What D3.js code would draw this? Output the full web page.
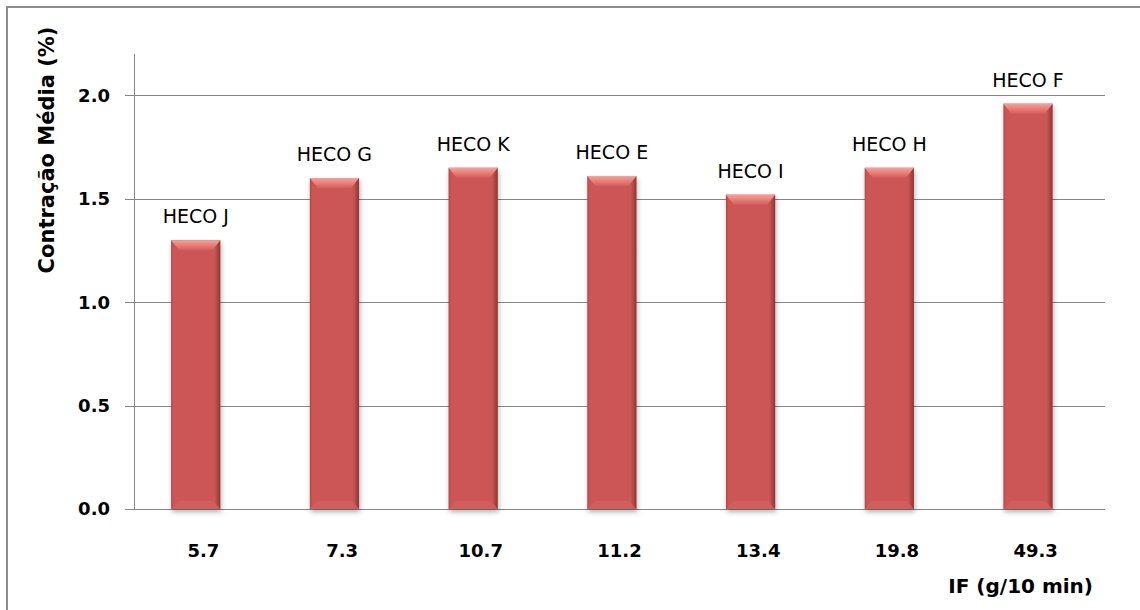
<!DOCTYPE html>
<html>
<head>
<meta charset="utf-8">
<script src="https://cdn.jsdelivr.net/npm/d3@7"></script>
<style>
  body { margin: 0; background: #fff; }
  svg { display: block; font-family: "DejaVu Sans", sans-serif; }
</style>
</head>
<body>
<div id="chart-container"></div>
<script>
// chart data
const categories = ["5.7", "7.3", "10.7", "11.2", "13.4", "19.8", "49.3"];
const contraction = [1.30, 1.60, 1.65, 1.61, 1.52, 1.65, 1.96];
const sampleNames = ["HECO J", "HECO G", "HECO K", "HECO E", "HECO I", "HECO H", "HECO F"];
const yTicks = [0, 0.5, 1.0, 1.5, 2.0];

const width = 1140;
const height = 610;

// plot area, taken from the reference layout
const margin = { top: 54, right: 35, bottom: 101, left: 134 };

const data = categories.map((c, i) => ({ cat: c, value: contraction[i], name: sampleNames[i] }));

const svg = d3.select("#chart-container")
    .append("svg")
    .attr("width", width)
    .attr("height", height);

const defs = svg.append("defs");

// side shading of the bars
const sideGrad = defs.append("linearGradient")
    .attr("id", "bar-side")
    .attr("x1", "0%").attr("x2", "100%").attr("y1", "0%").attr("y2", "0%");
sideGrad.selectAll("stop")
    .data([
        { o: "0%", c: "#b44745" },
        { o: "5%", c: "#cb5654" },
        { o: "88%", c: "#cc5755" },
        { o: "95%", c: "#a94341" },
        { o: "100%", c: "#8a3533" }
    ])
    .join("stop")
    .attr("offset", d => d.o)
    .attr("stop-color", d => d.c);

// top bevel highlight
const topGrad = defs.append("linearGradient")
    .attr("id", "bar-top")
    .attr("x1", "0%").attr("x2", "0%").attr("y1", "0%").attr("y2", "100%");
topGrad.selectAll("stop")
    .data([
        { o: "0%", c: "#f7a19c" },
        { o: "40%", c: "#ee8580" },
        { o: "100%", c: "#d45d5a" }
    ])
    .join("stop")
    .attr("offset", d => d.o)
    .attr("stop-color", d => d.c);

// soft shadow under the bars
const shadow = defs.append("filter")
    .attr("id", "bar-shadow")
    .attr("x", "-20%").attr("y", "-5%").attr("width", "140%").attr("height", "115%");
shadow.append("feDropShadow")
    .attr("dx", 1).attr("dy", 3)
    .attr("stdDeviation", 2.5)
    .attr("flood-color", "#000")
    .attr("flood-opacity", 0.3);

// outer frame (only left and top are visible in the window)
svg.append("rect")
    .attr("x", 7).attr("y", 7)
    .attr("width", width + 20).attr("height", height + 20)
    .attr("fill", "none")
    .attr("stroke", "#8c8c8c")
    .attr("stroke-width", 2);

// scales
const x = d3.scaleBand()
    .domain(categories)
    .range([margin.left, width - margin.right])
    .padding(0);

const y = d3.scaleLinear()
    .domain([0, 2.2])
    .range([height - margin.bottom, margin.top]);

const barWidth = x.bandwidth() * 0.355;
const barShift = -x.bandwidth() * 0.055; // bars sit slightly left of the category centre
const barX = d => x(d.cat) + x.bandwidth() / 2 + barShift - barWidth / 2;

// gridlines
svg.append("g")
    .selectAll("line")
    .data(yTicks)
    .join("line")
    .attr("x1", margin.left - 9)
    .attr("x2", width - margin.right)
    .attr("y1", d => Math.round(y(d)) + 0.5)
    .attr("y2", d => Math.round(y(d)) + 0.5)
    .attr("stroke", "#868686")
    .attr("stroke-width", 1);

// y axis line
svg.append("line")
    .attr("x1", margin.left + 0.5).attr("x2", margin.left + 0.5)
    .attr("y1", margin.top).attr("y2", y(0))
    .attr("stroke", "#868686");

// y tick labels
svg.append("g")
    .attr("font-size", 18)
    .attr("font-weight", "bold")
    .attr("text-anchor", "end")
    .selectAll("text")
    .data(yTicks)
    .join("text")
    .attr("x", margin.left - 24)
    .attr("y", d => y(d))
    .attr("dy", "0.36em")
    .attr("fill", "#000")
    .text(d => d3.format(".1f")(d));

// bars
const bars = svg.append("g")
    .selectAll("g")
    .data(data)
    .join("g");

bars.append("rect")
    .attr("x", barX)
    .attr("y", d => y(d.value))
    .attr("width", barWidth)
    .attr("height", d => y(0) - y(d.value))
    .attr("fill", "url(#bar-side)")
    .attr("filter", "url(#bar-shadow)");

// top bevel
bars.append("path")
    .attr("d", d => {
        const x0 = barX(d), x1 = x0 + barWidth, t = y(d.value), b = 10;
        return `M${x0},${t}L${x1},${t}L${x1 - 8},${t + b}L${x0 + 8},${t + b}Z`;
    })
    .attr("fill", "url(#bar-top)");

// bottom bevel, lighter and faint
bars.append("path")
    .attr("d", d => {
        const x0 = barX(d), x1 = x0 + barWidth, b = y(0);
        return `M${x0},${b}L${x1},${b}L${x1 - 7},${b - 8}L${x0 + 7},${b - 8}Z`;
    })
    .attr("fill", "#d2605d")
    .attr("opacity", 0.8);

// sample labels over the bars
svg.append("g")
    .attr("font-size", 19)
    .attr("text-anchor", "middle")
    .selectAll("text")
    .data(data)
    .join("text")
    .attr("x", d => barX(d) + barWidth / 2)
    .attr("y", d => y(d.value) - 17)
    .attr("fill", "#000")
    .text(d => d.name);

// x tick labels
svg.append("g")
    .attr("font-size", 18)
    .attr("font-weight", "bold")
    .attr("text-anchor", "middle")
    .selectAll("text")
    .data(categories)
    .join("text")
    .attr("x", d => x(d) + x.bandwidth() / 2)
    .attr("y", 557)
    .attr("fill", "#000")
    .text(d => d);

// axis titles
svg.append("text")
    .attr("x", 1093)
    .attr("y", 593)
    .attr("text-anchor", "end")
    .attr("font-size", 20)
    .attr("font-weight", "bold")
    .text("IF (g/10 min)");

svg.append("text")
    .attr("transform", "translate(54,150) rotate(-90)")
    .attr("text-anchor", "middle")
    .attr("font-size", 21)
    .attr("font-weight", "bold")
    .text("Contração Média (%)");
</script>
</body>
</html>
